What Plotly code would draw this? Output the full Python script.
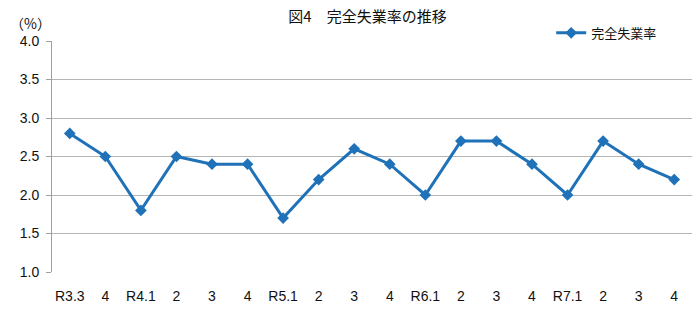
import plotly.graph_objects as go

labels = ["R3.3", "4", "R4.1", "2", "3", "4", "R5.1", "2", "3", "4",
          "R6.1", "2", "3", "4", "R7.1", "2", "3", "4"]
rates = [2.8, 2.5, 1.8, 2.5, 2.4, 2.4, 1.7, 2.2, 2.6, 2.4,
         2.0, 2.7, 2.7, 2.4, 2.0, 2.7, 2.4, 2.2]
series_name = "完全失業率"
title = "図4　完全失業率の推移"

x = list(range(len(labels)))
color = "#1f72b8"
font_fam = "Noto Sans CJK JP, Noto Sans, sans-serif"
tick_fam = "Liberation Sans, Open Sans, sans-serif"

fig = go.Figure()
fig.add_trace(go.Scatter(
    x=x, y=rates, mode="lines+markers", name=series_name,
    line=dict(color=color, width=3),
    marker=dict(symbol="diamond", size=9, color=color),
))

fig.update_layout(
    width=700, height=310,
    margin=dict(l=52, r=8, t=41, b=38),
    paper_bgcolor="white", plot_bgcolor="white",
    font=dict(family=font_fam, size=13, color="#111"),
    title=dict(text=title, x=0.525, xanchor="center", y=0.945, yanchor="middle",
               font=dict(size=15, color="#111")),
    showlegend=True,
    legend=dict(x=0.78, y=1.035, xanchor="left", yanchor="middle",
                font=dict(size=13), bgcolor="rgba(0,0,0,0)",
                itemwidth=30, tracegroupgap=0),
    xaxis=dict(
        range=[-0.5, len(labels) - 0.5],
        tickmode="array", tickvals=x, ticktext=labels,
        showgrid=False, zeroline=False, showline=False, ticks="",
        ticklabelstandoff=14, automargin=False,
        tickfont=dict(family=tick_fam, size=14, color="#111"),
    ),
    yaxis=dict(
        range=[1.0, 4.0], dtick=0.5, tickformat=".1f",
        showgrid=True, gridcolor="#b5b5b5", gridwidth=1,
        zeroline=False, showline=True, linecolor="#a0a0a0", linewidth=1,
        ticks="outside", ticklen=5, tickcolor="#a0a0a0",
        ticklabelstandoff=4, automargin=False,
        tickfont=dict(family=tick_fam, size=14, color="#111"),
    ),
)

fig.add_annotation(text="（%）", xref="paper", yref="paper", x=-0.068, y=1.078,
                   xanchor="left", yanchor="middle", showarrow=False,
                   font=dict(size=14, family=font_fam))

fig.write_html("out.html")
